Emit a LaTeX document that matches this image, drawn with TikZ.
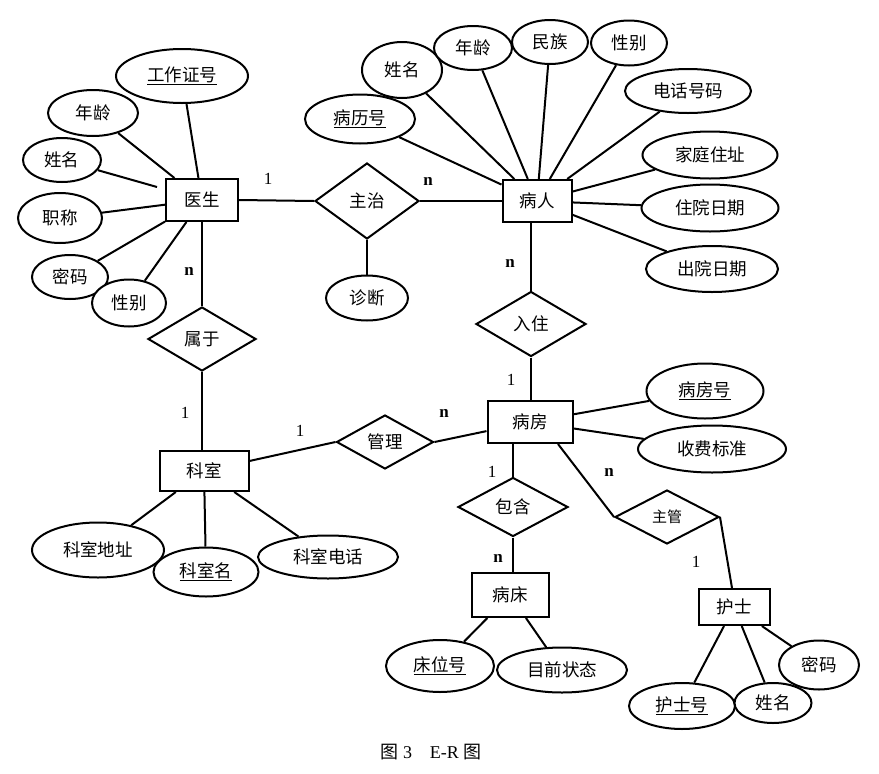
\documentclass[tikz,border=0pt]{standalone}
\usepackage{fontspec}
\setmainfont{Liberation Serif}
\newfontfamily\cjk{Noto Sans CJK SC}
\usetikzlibrary{shapes.geometric,calc}
\tikzset{
  base/.style={fill=white, inner sep=0pt, font=\cjk\fontsize{17.5}{19}\selectfont},
  ent/.style={base, draw, rectangle, line width=2pt},
  attr/.style={base, draw, ellipse, line width=2pt},
  rel/.style={base, draw, diamond, line width=2pt},
  lab/.style={font=\fontsize{17}{19}\selectfont},
  labn/.style={font=\bfseries\fontsize{17}{19}\selectfont},
  conn/.style={line width=2pt}
}
\begin{document}
\begin{tikzpicture}[x=1pt,y=-1pt]
\useasboundingbox (0,0) rectangle (879,774);
% entities
\node[ent, minimum width=72, minimum height=42] (doc) at (202,200) {医生};
\node[ent, minimum width=69, minimum height=42] (br) at (537,201) {病人};
\node[ent, minimum width=89, minimum height=40] (ks) at (204,471) {科室};
\node[ent, minimum width=85, minimum height=42] (bf) at (530,422) {病房};
\node[ent, minimum width=77, minimum height=44] (bc) at (510,595) {病床};
\node[ent, minimum width=71, minimum height=36] (hs) at (734,607) {护士};
% relationships
\node[rel, minimum width=104, minimum height=76] (zz) at (367,201) {主治};
\node[rel, minimum width=108, minimum height=64] (sy) at (202,339) {属于};
\node[rel, minimum width=110, minimum height=65] (rz) at (531,324) {入住};
\node[rel, minimum width=97, minimum height=54] (gl) at (385,442) {管理};
\node[rel, minimum width=110, minimum height=59] (bh) at (513,507) {包含};
\node[rel, minimum width=104, minimum height=54, font=\cjk\fontsize{15}{17}\selectfont] (zg) at (667,517) {主管};
% doctor attributes
\node[attr, minimum width=132, minimum height=54] (d1) at (182,76) {\underline{工作证号}};
\node[attr, minimum width=90, minimum height=46] (d2) at (93,113) {年龄};
\node[attr, minimum width=78, minimum height=44] (d3) at (62,160) {姓名};
\node[attr, minimum width=84, minimum height=50] (d4) at (60,218) {职称};
\node[attr, minimum width=76, minimum height=44] (d5) at (70,277) {密码};
\node[attr, minimum width=74, minimum height=47] (d6) at (129,303) {性别};
\node[attr, minimum width=82, minimum height=45] (zd) at (367,298) {诊断};
% patient attributes
\node[attr, minimum width=110, minimum height=49] (p1) at (360,119) {\underline{病历号}};
\node[attr, minimum width=80, minimum height=56] (p2) at (402,70) {姓名};
\node[attr, minimum width=78, minimum height=44] (p3) at (473,48) {年龄};
\node[attr, minimum width=76, minimum height=44] (p4) at (550,42) {民族};
\node[attr, minimum width=76, minimum height=45] (p5) at (629,43) {性别};
\node[attr, minimum width=126, minimum height=44] (p6) at (688,91) {电话号码};
\node[attr, minimum width=135, minimum height=47] (p7) at (710,155) {家庭住址};
\node[attr, minimum width=137, minimum height=47] (p8) at (710,208) {住院日期};
\node[attr, minimum width=132, minimum height=46] (p9) at (712,269) {出院日期};
% department attributes
\node[attr, minimum width=132, minimum height=55] (k1) at (98,550) {科室地址};
\node[attr, minimum width=105, minimum height=49] (k2) at (206,572) {\underline{科室名}};
\node[attr, minimum width=140, minimum height=43] (k3) at (328,557) {科室电话};
% ward attributes
\node[attr, minimum width=117, minimum height=55] (f1) at (705,391) {\underline{病房号}};
\node[attr, minimum width=148, minimum height=47] (f2) at (712,449) {收费标准};
% bed attributes
\node[attr, minimum width=108, minimum height=52] (c1) at (440,666) {\underline{床位号}};
\node[attr, minimum width=130, minimum height=45] (c2) at (562,670) {目前状态};
% nurse attributes
\node[attr, minimum width=106, minimum height=46] (h1) at (682,706) {\underline{护士号}};
\node[attr, minimum width=77, minimum height=40] (h2) at (773,703) {姓名};
\node[attr, minimum width=80, minimum height=49] (h3) at (819,665) {密码};
% connectors
\foreach \a in {d1,d2,d4,d5,d6} \draw[conn] (doc) -- (\a);
\coordinate (d3end) at (157,187);
\draw[conn] (d3) -- (d3end);
\foreach \a in {p1,p2,p3,p4,p5,p6,p7,p8,p9} \draw[conn] (br) -- (\a);
\foreach \a in {k1,k2,k3} \draw[conn] (ks) -- (\a);
\foreach \a in {f1,f2} \draw[conn] (bf) -- (\a);
\foreach \a in {c1,c2} \draw[conn] (bc) -- (\a);
\foreach \a in {h1,h2,h3} \draw[conn] (hs) -- (\a);
\draw[conn] (doc.east) -- (zz.west);
\draw[conn] (zz.east) -- (zz.east -| br.west);
\draw[conn] (zz.south) -- (zd);
\draw[conn] (doc.south) -- (sy.north);
\draw[conn] (sy.south) -- (sy.south |- ks.north);
\draw[conn] (rz.north |- br.south) -- (rz.north);
\draw[conn] (rz.south) -- (rz.south |- bf.north);
\draw[conn] (ks) -- (gl.west);
\draw[conn] (gl.east) -- (bf);
\draw[conn] (bh.north |- bf.south) -- (bh.north);
\draw[conn] (bh.south) -- (bh.south |- bc.north);
\draw[conn] ($(bf.south)+(28,0)$) -- (zg.west);
\draw[conn] (zg.east) -- ($(hs.north)+(-2,0)$);
% cardinality labels
\node[lab] (l1) at (268,179) {1};
\node[labn] (l2) at (428,181) {n};
\node[labn] (l3) at (189,271) {n};
\node[lab] (l4) at (185,413) {1};
\node[labn] (l5) at (510,263) {n};
\node[lab] (l6) at (511,380) {1};
\node[lab] (l7) at (300,431) {1};
\node[labn] (l8) at (444,413) {n};
\node[lab] (l9) at (492,472) {1};
\node[labn] (l10) at (609,472) {n};
\node[labn] (l11) at (498,558) {n};
\node[lab] (l12) at (696,562) {1};
% caption
\node[font=\fontsize{18}{20}\selectfont] (cap) at (431,752) {{\cjk 图} 3\quad E-R {\cjk 图}};
\end{tikzpicture}
\end{document}
